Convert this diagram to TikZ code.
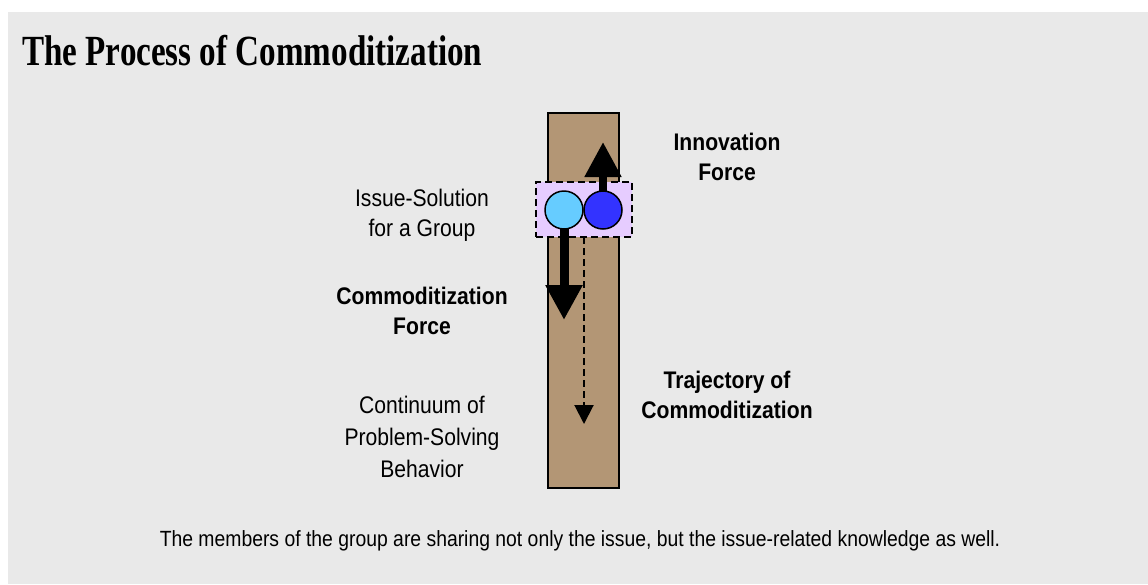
\documentclass[tikz,border=0pt]{standalone}
\usepackage{fontspec}
\setmainfont[FakeStretch=0.88]{Liberation Sans}
\newfontfamily\titlefont[FakeStretch=0.77]{Liberation Serif}
\usetikzlibrary{arrows.meta}
\definecolor{bgray}{RGB}{233,233,233}
\definecolor{tan}{RGB}{179,150,117}
\definecolor{lav}{RGB}{230,204,255}
\definecolor{lblue}{RGB}{102,204,255}
\definecolor{dblue}{RGB}{51,51,255}
\tikzset{
  lbl/.style={align=center, anchor=base, inner sep=0pt, font=\fontsize{24}{30}\selectfont},
  blbl/.style={lbl, font=\fontsize{24}{30}\selectfont\bfseries},
  ball/.style={circle, draw=black, line width=1.5pt, minimum size=38pt, inner sep=0pt},
  force/.style={line width=#1, -{Triangle[width=35pt,length=35pt]}},
  dashbox/.style={dash pattern=on 7pt off 4pt, line width=2.2pt},
}
\begin{document}
\begin{tikzpicture}[x=1pt,y=-1pt]
\useasboundingbox (0,0) rectangle (1148,584);
\fill[bgray] (8,12) rectangle (1148,584);
\node[anchor=base west, inner sep=0pt, font=\fontsize{43}{50}\titlefont\bfseries] (title) at (22,65) {The Process of Commoditization};
% bar
\node[draw=black, fill=tan, line width=1.5pt, minimum width=71pt, minimum height=375pt, inner sep=0pt] (bar) at (583.5,300.5) {};
% group box
\node[draw=black, fill=lav, dashbox, minimum width=96pt, minimum height=55pt, inner sep=0pt] (grp) at (584,209.5) {};
\coordinate (lc) at (564,210);
\coordinate (dc) at (603,210);
\coordinate (uptip) at (603,142);
\coordinate (downtip) at (564,320);
\coordinate (dashtop) at (584,237);
\coordinate (dashtip) at (584,424);
\draw[line width=2pt, dash pattern=on 7pt off 4pt, -{Triangle[width=19pt,length=19pt]}] (dashtop) -- (dashtip);
\draw[force=8pt] (dc) -- (uptip);
\draw[force=9pt] (lc) -- (downtip);
\node[ball, fill=lblue] (lball) at (lc) {};
\node[ball, fill=dblue] (dball) at (dc) {};
% labels (anchor = baseline of last line)
\node[blbl] (innov) at (727,180) {Innovation\\Force};
\node[lbl] (issue) at (422,236) {Issue-Solution\\for a Group};
\node[blbl] (comf) at (422,334) {Commoditization\\Force};
\node[lbl, font=\fontsize{24}{32}\selectfont] (cont) at (422,477) {Continuum of\\Problem-Solving\\Behavior};
\node[blbl] (traj) at (727,418) {Trajectory of\\Commoditization};
\node[anchor=base, inner sep=0pt, font=\fontsize{22}{26}\selectfont] (cap) at (580,546) {The members of the group are sharing not only the issue, but the issue-related knowledge as well.};
\end{tikzpicture}
\end{document}
